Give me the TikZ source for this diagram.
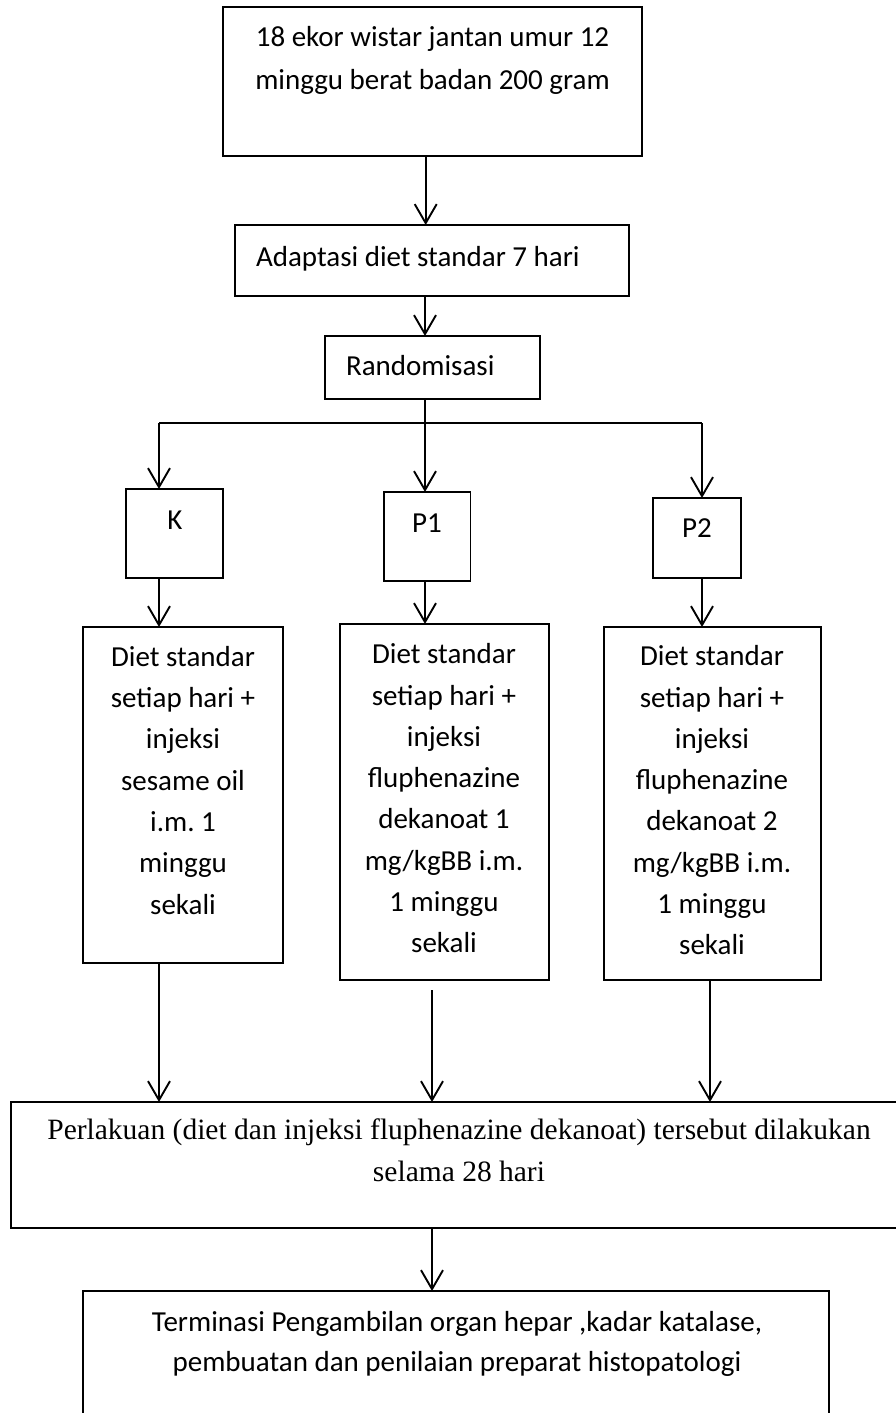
\documentclass[tikz,border=0pt]{standalone}
\usepackage{fontspec}
\setmainfont{Carlito}
\newfontfamily\tnr{Liberation Serif}
\usetikzlibrary{arrows.meta,calc}
\frenchspacing
\tikzset{
  box/.style={draw, line width=1.9pt, inner sep=0pt, outer sep=0pt},
  txt/.style={inner sep=0pt, outer sep=0pt, align=center},
  cal/.style={font=\fontsize{29}{41.3}\selectfont},
  arr/.style={line width=1.9pt, -{Straight Barb[length=19pt,width=22pt,line width=1.9pt]}},
  ln/.style={line width=1.9pt},
}
\newcommand\bx[5]{\node[box, minimum width={#4-#2}, minimum height={#5-#3}] (#1) at ({(#2+#4)/2},{(#3+#5)/2}) {};}
\begin{document}
\begin{tikzpicture}[x=1pt,y=-1pt]
\useasboundingbox (0,0) rectangle (896,1413);
% boxes
\bx{top}{222.7}{7}{642}{156}
\bx{adapt}{235}{225}{629}{296}
\bx{rand}{325}{336}{540}{399}
\bx{K}{126}{489}{223}{578}
\bx{P1}{384}{492}{470.5}{581}
\bx{P2}{653}{498}{741}{578}
\bx{dK}{83}{627}{283}{963}
\bx{dP1}{340}{624}{549}{980}
\bx{dP2}{604}{627}{821}{980}
\bx{perl}{11}{1102}{907}{1228}
\bx{term}{83}{1291}{829}{1440}
% texts
\node[txt, font=\fontsize{29}{43}\selectfont] (tTop) at (432.5,59.5)
  {\strut 18 ekor wistar jantan umur 12\\\strut minggu berat badan 200 gram};
\node[txt, cal, anchor=west] (tAdapt) at (256,258) {\strut Adaptasi diet standar 7 hari};
\node[txt, cal, anchor=west] (tRand) at (346,367) {\strut Randomisasi};
\node[txt, cal] (tK) at (175,521) {\strut K};
\node[txt, cal] (tP1) at (427,524) {\strut P1};
\node[txt, cal] (tP2) at (697,529) {\strut P2};
\node[txt, cal] (tdK) at (183,782)
  {\strut Diet standar\\\strut setiap hari +\\\strut injeksi\\\strut sesame oil\\\strut i.m. 1\\\strut minggu\\\strut sekali};
\node[txt, cal] (tdP1) at (444,800)
  {\strut Diet standar\\\strut setiap hari +\\\strut injeksi\\\strut fluphenazine\\\strut dekanoat 1\\\strut mg/kgBB i.m.\\\strut 1 minggu\\\strut sekali};
\node[txt, cal] (tdP2) at (712,802)
  {\strut Diet standar\\\strut setiap hari +\\\strut injeksi\\\strut fluphenazine\\\strut dekanoat 2\\\strut mg/kgBB i.m.\\\strut 1 minggu\\\strut sekali};
\node[txt, font=\tnr\fontsize{29.5}{42}\selectfont] (tPerl) at (459,1152)
  {\strut Perlakuan (diet dan injeksi fluphenazine dekanoat) tersebut dilakukan\\\strut selama 28 hari};
\node[txt, font=\fontsize{29}{40}\selectfont] (tTerm) at (457,1343)
  {\strut Terminasi Pengambilan organ hepar ,kadar katalase,\\\strut pembuatan dan penilaian preparat histopatologi};
% connector columns
\coordinate (cA) at (425.7,0);
\coordinate (cB) at (425,0);
\coordinate (cL) at (159,0);
\coordinate (cR) at (702,0);
\coordinate (cM) at (432,0);
\coordinate (cR2) at (710,0);
\coordinate (split) at (425,423);
% connectors
\draw[arr] (top.south -| cA) -- (adapt.north -| cA);
\draw[arr] (adapt.south -| cB) -- (rand.north -| cB);
\draw[arr] (rand.south -| cB) -- (P1.north -| cB);
\draw[ln] (split -| cL) -- (split -| cR);
\draw[arr] (split -| cL) -- (K.north -| cL);
\draw[arr] (split -| cR) -- (P2.north -| cR);
\draw[arr] (K.south -| cL) -- (dK.north -| cL);
\draw[arr] (P1.south -| cB) -- (dP1.north -| cB);
\draw[arr] (P2.south -| cR) -- (dP2.north -| cR);
\draw[arr] (dK.south -| cL) -- (perl.north -| cL);
\draw[arr] ($(dP1.south -| cM)+(0,10)$) -- (perl.north -| cM);
\draw[arr] (dP2.south -| cR2) -- (perl.north -| cR2);
\draw[arr] (perl.south -| cM) -- (term.north -| cM);
\end{tikzpicture}
\end{document}
